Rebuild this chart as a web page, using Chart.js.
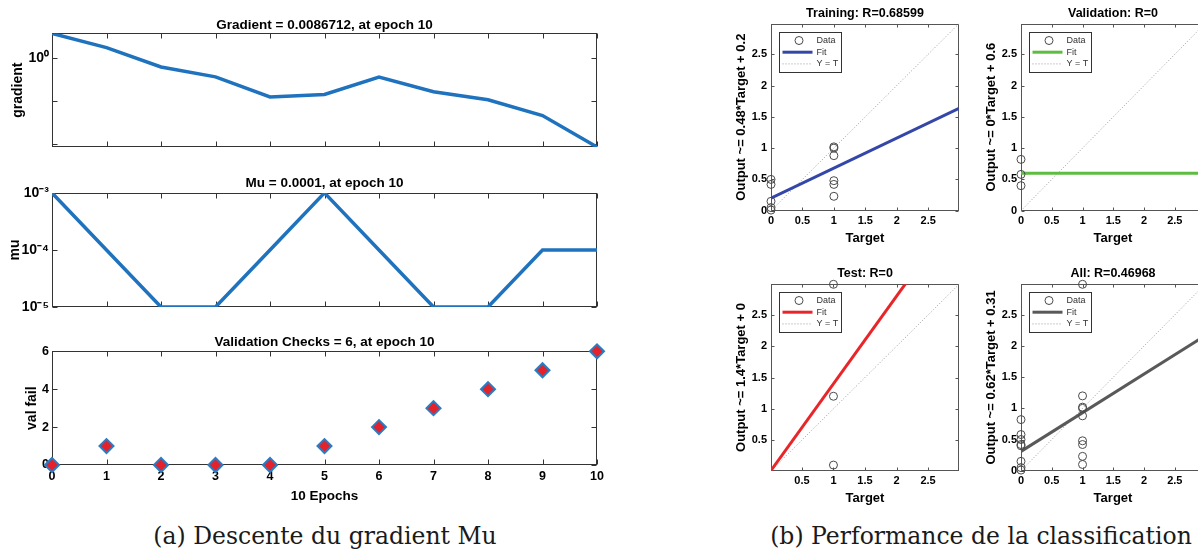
<!DOCTYPE html>
<html lang="fr">
<head>
<meta charset="UTF-8">
<title>Descente du gradient et performance de la classification</title>
<script src="https://cdn.jsdelivr.net/npm/chart.js@4"></script>
<style>
  html, body { margin: 0; padding: 0; background: #fff; overflow: hidden; }
  #page { position: relative; width: 1198px; height: 549px; overflow: hidden; }
  canvas { position: absolute; }
  .caption {
    position: absolute; top: 522px; transform: translateX(-50%);
    font-family: "DejaVu Serif", "Liberation Serif", serif; font-size: 23.5px;
    line-height: 28px; color: #1a1a1a; white-space: nowrap;
  }
</style>
</head>
<body>
<div id="page">
  <canvas id="gradChart" width="610" height="160" style="left:0;top:0"></canvas>
  <canvas id="muChart" width="610" height="160" style="left:0;top:160px"></canvas>
  <canvas id="valChart" width="610" height="190" style="left:0;top:320px"></canvas>

  <canvas id="regTrain" width="265" height="250" style="left:700px;top:0"></canvas>
  <canvas id="regVal" width="260" height="250" style="left:950px;top:0"></canvas>
  <canvas id="regTest" width="265" height="255" style="left:700px;top:255px"></canvas>
  <canvas id="regAll" width="260" height="255" style="left:950px;top:255px"></canvas>

  <div class="caption" style="left:325px">(a) Descente du gradient Mu</div>
  <div class="caption" style="left:981px">(b) Performance de la classification</div>
</div>

<script>
// ---------- (a) training record ----------
const epochs = [0, 1, 2, 3, 4, 5, 6, 7, 8, 9, 10];
const gradientValues = [3.63, 1.70, 0.61, 0.36, 0.124, 0.142, 0.355, 0.163, 0.107, 0.046, 0.0086712];
const muValues = [1e-3, 1e-4, 1e-5, 1e-5, 1e-4, 1e-3, 1e-4, 1e-5, 1e-5, 1e-4, 1e-4];
const valFailValues = [0, 1, 0, 0, 0, 1, 2, 3, 4, 5, 6];

const gradientTicks = [0.01, 0.1, 1];
const gradientTickLabels = ['', '', '10⁰'];
const muTicks = [1e-5, 1e-4, 1e-3];
const muTickLabels = ['10⁻⁵', '10⁻⁴', '10⁻³'];
const valFailTicks = [0, 2, 4, 6];
const valFailTickLabels = ['0', '2', '4', '6'];

// ---------- (b) regression plots ----------
const regTicks = [0, 0.5, 1, 1.5, 2, 2.5];
const regTickLabels = ['0', '0.5', '1', '1.5', '2', '2.5'];

const trainTargets = [0, 0, 0, 0, 0, 1, 1, 1, 1, 1, 1];
const trainOutputs = [0.50, 0.42, 0.15, 0.05, 0.01, 1.02, 1.00, 0.88, 0.48, 0.42, 0.23];
const valTargets = [0, 0, 0];
const valOutputs = [0.82, 0.58, 0.40];
const testTargets = [1, 1, 1];
const testOutputs = [2.99, 1.20, 0.10];
const allTargets = [0, 0, 0, 0, 0, 0, 0, 0, 1, 1, 1, 1, 1, 1, 1, 1, 1];
const allOutputs = [0.50, 0.42, 0.15, 0.05, 0.01, 0.82, 0.58, 0.40, 1.02, 1.00, 0.88, 0.48, 0.42, 0.23, 2.99, 1.20, 0.10];

const regTitles = ['Training: R=0.68599', 'Validation: R=0', 'Test: R=0', 'All: R=0.46968'];
const regYLabels = ['Output ~= 0.48*Target + 0.2', 'Output ~= 0*Target + 0.6',
                    'Output ~= 1.4*Target + 0', 'Output ~= 0.62*Target + 0.31'];
const fitSlopes = [0.48, 0, 1.4, 0.62];
const fitIntercepts = [0.2, 0.6, 0, 0.31];
const fitColors = ['#3447a8', '#5cbd40', '#e8262a', '#595959'];
const regMin = [0, 0, 0.01, 0];
const regMax = 2.99;

const FONT = '"Liberation Sans", Arial, sans-serif';
Chart.defaults.font.family = FONT;
Chart.defaults.color = '#000';

// MATLAB-like axes box with inward ticks on all four sides
const matlabBox = {
  id: 'matlabBox',
  beforeDatasetsDraw(chart, args, o) {
    const { ctx, chartArea: a, scales } = chart;
    const L = Math.round(a.left) + 0.5, R = Math.round(a.right) - 0.5;
    const T = Math.round(a.top) + 0.5, B = Math.round(a.bottom) - 0.5;
    ctx.save();
    ctx.strokeStyle = o.color;
    ctx.lineWidth = 1;
    ctx.beginPath();
    scales.x.ticks.forEach(t => {
      const px = Math.round(scales.x.getPixelForValue(t.value)) + 0.5;
      ctx.moveTo(px, B); ctx.lineTo(px, B - o.tickLen);
      ctx.moveTo(px, T); ctx.lineTo(px, T + o.tickLen);
    });
    scales.y.ticks.forEach(t => {
      const py = Math.round(scales.y.getPixelForValue(t.value)) + 0.5;
      ctx.moveTo(L, py); ctx.lineTo(L + o.tickLen, py);
      ctx.moveTo(R, py); ctx.lineTo(R - o.tickLen, py);
    });
    ctx.stroke();
    ctx.strokeRect(L, T, R - L, B - T);
    ctx.restore();
  }
};

// legend box drawn inside the axes (top-left), like plotregression
const regLegend = {
  id: 'regLegend',
  afterDatasetsDraw(chart) {
    const { ctx, chartArea: a } = chart;
    const x = Math.round(a.left + 8) + 0.5, y = Math.round(a.top + 8) + 0.5;
    const w = 62, h = 40;
    ctx.save();
    ctx.fillStyle = '#fff';
    ctx.fillRect(x, y, w, h);
    ctx.strokeStyle = '#333';
    ctx.lineWidth = 1;
    ctx.strokeRect(x, y, w, h);
    ctx.font = '9px ' + FONT;
    ctx.textBaseline = 'middle';
    chart.data.datasets.forEach((ds, i) => {
      const cy = y + 8 + i * 11.7;
      ctx.strokeStyle = ds.borderColor;
      ctx.lineWidth = ds.borderWidth;
      ctx.setLineDash(ds.borderDash || []);
      ctx.beginPath();
      if (ds.showLine === false) {
        ctx.arc(x + 19.5, cy, ds.pointRadius, 0, Math.PI * 2);
      } else {
        ctx.moveTo(x + 3, cy); ctx.lineTo(x + 33, cy);
      }
      ctx.stroke();
      ctx.setLineDash([]);
      ctx.fillStyle = '#333';
      ctx.fillText(ds.label, x + 37, cy);
    });
    ctx.restore();
  }
};

function noPad(s) { s.paddingLeft = 0; s.paddingRight = 0; s.paddingTop = 0; s.paddingBottom = 0; }

function trainChart(id, o) {
  return new Chart(document.getElementById(id), {
    type: 'line',
    data: { datasets: [o.dataset] },
    options: {
      responsive: false, devicePixelRatio: 1, animation: false,
      layout: { padding: { left: 0, right: 13, top: 0, bottom: 0 } },
      plugins: {
        legend: { display: false }, tooltip: { enabled: false },
        title: { display: true, text: o.title, fullSize: false, color: '#000',
                 font: { size: 13.5, weight: 'bold' }, padding: o.titlePad },
        matlabBox: { tickLen: 5, color: '#333' }
      },
      scales: {
        x: {
          type: 'linear', min: 0, max: 10,
          afterFit: s => { s.height = o.xHeight; noPad(s); },
          afterBuildTicks: s => { s.ticks = epochs.map(v => ({ value: v })); },
          grid: { display: false, drawTicks: false }, border: { display: false },
          ticks: { display: o.showX, padding: 4, autoSkip: false, maxRotation: 0,
                   font: { size: 12.5, weight: 'bold' }, callback: v => String(v) },
          title: { display: !!o.xTitle, text: o.xTitle || '', font: { size: 13.5, weight: 'bold' },
                   padding: { top: 0, bottom: 6 } }
        },
        y: {
          type: o.yType, min: o.yMin, max: o.yMax,
          afterFit: s => { s.width = 52; noPad(s); },
          afterBuildTicks: s => { s.ticks = o.yTicks.map(v => ({ value: v })); },
          grid: { display: false, drawTicks: false }, border: { display: false },
          ticks: { padding: 3, autoSkip: false, font: { size: o.yTickSize, weight: 'bold' },
                   callback: (v, i) => o.yTickLabels[i] },
          title: { display: true, text: o.yTitle, font: { size: 14, weight: 'bold' },
                   padding: { top: o.yTitleTop, bottom: 0 } }
        }
      }
    },
    plugins: [matlabBox]
  });
}

trainChart('gradChart', {
  title: 'Gradient = 0.0086712, at epoch 10',
  titlePad: { top: 17, bottom: 0.2 },
  dataset: { data: epochs.map((e, i) => ({ x: e, y: gradientValues[i] })),
             borderColor: '#1f72bd', borderWidth: 3.5, pointRadius: 0, tension: 0 },
  yType: 'logarithmic', yMin: 0.0086712, yMax: 3.63,
  yTicks: gradientTicks, yTickLabels: gradientTickLabels, yTickSize: 14,
  yTitle: 'gradient', yTitleTop: 10,
  xHeight: 13, showX: false
});

trainChart('muChart', {
  title: 'Mu = 0.0001, at epoch 10',
  titlePad: { top: 15.5, bottom: 1.2 },
  dataset: { data: epochs.map((e, i) => ({ x: e, y: muValues[i] })),
             borderColor: '#1f72bd', borderWidth: 3.5, pointRadius: 0, tension: 0 },
  yType: 'logarithmic', yMin: 1e-5, yMax: 1e-3,
  yTicks: muTicks, yTickLabels: muTickLabels, yTickSize: 14,
  yTitle: 'mu', yTitleTop: 6.5,
  xHeight: 13, showX: false
});

trainChart('valChart', {
  title: 'Validation Checks = 6, at epoch 10',
  titlePad: { top: 14.5, bottom: 0.6 },
  dataset: { data: epochs.map((e, i) => ({ x: e, y: valFailValues[i] })),
             showLine: false, pointStyle: 'rectRot', pointRadius: 7,
             backgroundColor: '#e3222b', borderColor: '#2a7cc3', borderWidth: 2, clip: false },
  yType: 'linear', yMin: 0, yMax: 6,
  yTicks: valFailTicks, yTickLabels: valFailTickLabels, yTickSize: 12.5,
  yTitle: 'val fail', yTitleTop: 24,
  xHeight: 45, showX: true, xTitle: '10 Epochs'
});

function regChart(id, i, targets, outputs, titlePad) {
  const lo = regMin[i], hi = regMax;
  const a = fitSlopes[i], b = fitIntercepts[i];
  return new Chart(document.getElementById(id), {
    type: 'scatter',
    data: {
      datasets: [
        { label: 'Data', data: targets.map((t, k) => ({ x: t, y: outputs[k] })),
          showLine: false, pointStyle: 'circle', pointRadius: 4, borderWidth: 1,
          borderColor: '#4a4a4a', backgroundColor: 'rgba(0,0,0,0)', clip: false },
        { label: 'Fit', data: [{ x: lo, y: a * lo + b }, { x: hi, y: a * hi + b }],
          showLine: true, pointRadius: 0, borderWidth: 3, borderColor: fitColors[i] },
        { label: 'Y = T', data: [{ x: lo, y: lo }, { x: hi, y: hi }],
          showLine: true, pointRadius: 0, borderWidth: 1, borderColor: '#9a9a9a', borderDash: [1, 2] }
      ]
    },
    options: {
      responsive: false, devicePixelRatio: 1, animation: false,
      layout: { padding: { left: 0, right: id === 'regTrain' || id === 'regTest' ? 6 : 1, top: 0, bottom: 0 } },
      plugins: {
        legend: { display: false }, tooltip: { enabled: false },
        title: { display: true, text: regTitles[i], fullSize: false, color: '#000',
                 font: { size: 12.5, weight: 'bold' }, padding: titlePad },
        matlabBox: { tickLen: 3, color: '#555' }
      },
      scales: {
        x: {
          type: 'linear', min: lo, max: hi,
          afterFit: s => { s.height = 39.3; noPad(s); },
          afterBuildTicks: s => { s.ticks = regTicks.filter(v => v >= lo && v <= hi).map(v => ({ value: v })); },
          grid: { display: false, drawTicks: false }, border: { display: false },
          ticks: { padding: 4, autoSkip: false, maxRotation: 0, font: { size: 11, weight: 'bold' },
                   callback: v => regTickLabels[regTicks.indexOf(v)] },
          title: { display: true, text: 'Target', font: { size: 13, weight: 'bold' },
                   padding: { top: 0, bottom: 4 } }
        },
        y: {
          type: 'linear', min: lo, max: hi,
          afterFit: s => { s.width = 71; noPad(s); },
          afterBuildTicks: s => { s.ticks = regTicks.filter(v => v >= lo && v <= hi).map(v => ({ value: v })); },
          grid: { display: false, drawTicks: false }, border: { display: false },
          ticks: { padding: 4, autoSkip: false, font: { size: 11, weight: 'bold' },
                   callback: v => regTickLabels[regTicks.indexOf(v)] },
          title: { display: true, text: regYLabels[i], font: { size: 13, weight: 'bold' },
                   padding: { top: 34, bottom: 0 } }
        }
      }
    },
    plugins: [matlabBox, regLegend]
  });
}

regChart('regTrain', 0, trainTargets, trainOutputs, { top: 6.5, bottom: 2.1 });
regChart('regVal', 1, valTargets, valOutputs, { top: 6.5, bottom: 2.1 });
regChart('regTest', 2, testTargets, testOutputs, { top: 11.5, bottom: 2.8 });
regChart('regAll', 3, allTargets, allOutputs, { top: 11.5, bottom: 2.8 });
</script>
</body>
</html>
